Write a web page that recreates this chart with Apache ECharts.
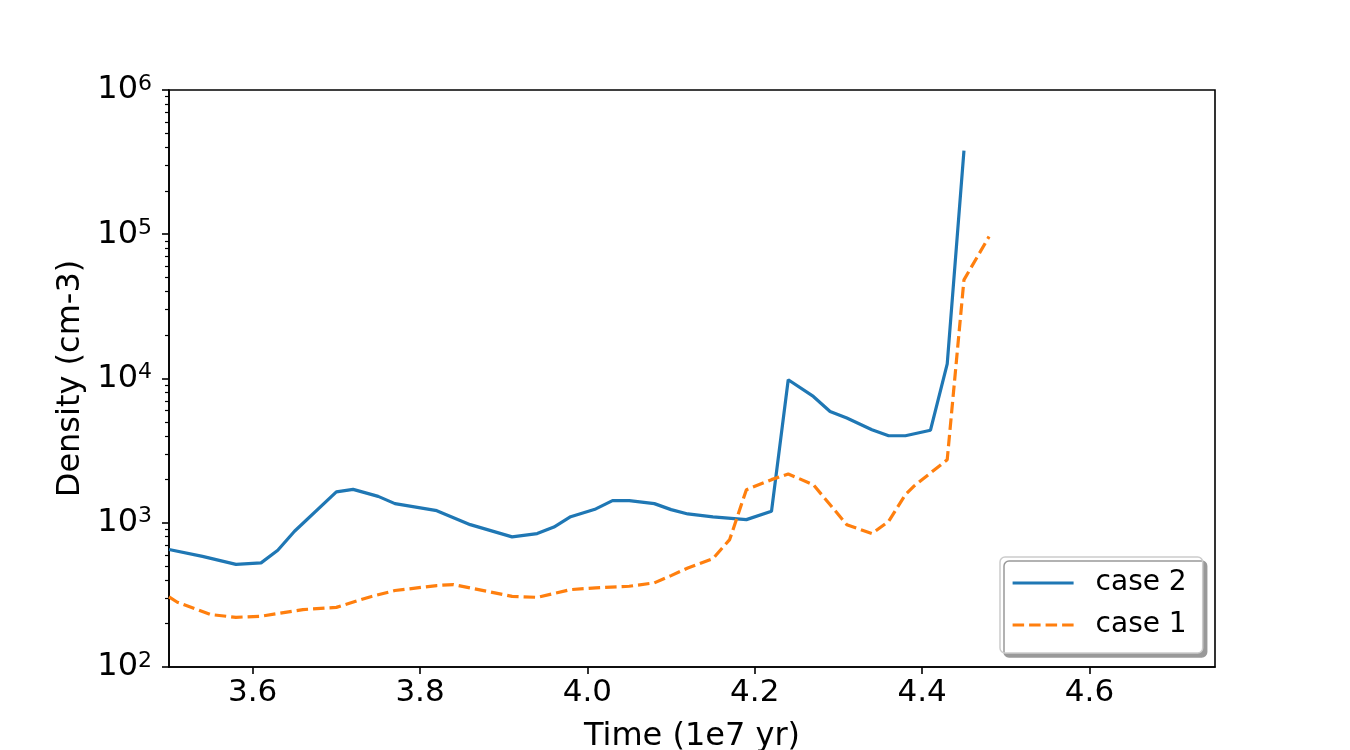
<!DOCTYPE html>
<html>
<head>
<meta charset="utf-8">
<script src="https://cdn.jsdelivr.net/npm/echarts@6/dist/echarts.min.js"></script>
<style>
  html, body { margin: 0; padding: 0; background: #fff; }
  #chart { width: 1350px; height: 750px; }
</style>
</head>
<body>
<div id="chart"></div>
<script>
// case 2 (blue, solid)
const case2Time = [3.50, 3.54, 3.58, 3.61, 3.63, 3.65, 3.70, 3.72, 3.75, 3.77, 3.82, 3.86, 3.91, 3.94, 3.96, 3.98,
  4.01, 4.03, 4.05, 4.08, 4.10, 4.12, 4.15, 4.19, 4.22, 4.24, 4.27, 4.29, 4.31, 4.34, 4.36, 4.38, 4.41, 4.43, 4.45];
const case2Density = [652, 585, 515, 527, 644, 873, 1635, 1704, 1524, 1357, 1213, 970, 798, 841, 933, 1102,
  1247, 1423, 1423, 1357, 1233, 1151, 1097, 1051, 1200, 9800, 7510, 5910, 5320, 4415, 4010, 4010, 4381, 12650, 379800];

// case 1 (orange, dashed)
const case1Time = [3.50, 3.51, 3.55, 3.58, 3.61, 3.66, 3.70, 3.74, 3.77, 3.82, 3.84, 3.87, 3.91, 3.94, 3.98,
  4.01, 4.05, 4.08, 4.10, 4.12, 4.15, 4.17, 4.19, 4.22, 4.24, 4.27, 4.31, 4.34, 4.36, 4.38, 4.39, 4.43, 4.45, 4.48];
const case1Density = [306, 281, 231, 221, 225, 250, 259, 306, 339, 367, 373, 344, 309, 304, 344,
  354, 363, 383, 430, 486, 564, 764, 1695, 1990, 2178, 1836, 970, 841, 1023, 1566, 1788, 2736, 48300, 96400];

const xTicks = [3.6, 3.8, 4.0, 4.2, 4.4, 4.6];
const yMajor = [1e2, 1e3, 1e4, 1e5, 1e6];
const yMinor = [];
for (let d = 100; d < 1e6; d *= 10) {
  for (let k = 2; k <= 9; k++) yMinor.push(d * k);
}

const font = 'DejaVu Sans';
const chart = echarts.init(document.getElementById('chart'));

function pairs(xs, ys) {
  return xs.map((x, i) => [x, ys[i]]);
}

chart.setOption({
  animation: false,
  backgroundColor: '#fff',
  grid: {
    left: 169, right: 135, top: 90, bottom: 83,
    outerBoundsMode: 'none',
    show: true, borderColor: '#000', borderWidth: 1.6, backgroundColor: 'transparent'
  },
  legend: {
    orient: 'vertical',
    left: 1000, top: 557,
    padding: [10, 16, 12, 11],
    itemWidth: 61, itemHeight: 14, itemGap: 10,
    backgroundColor: '#fff',
    borderColor: '#cccccc', borderWidth: 1.5, borderRadius: 5,
    shadowColor: '#999', shadowOffsetX: 4, shadowOffsetY: 4, shadowBlur: 0,
    itemStyle: { opacity: 0 },
    lineStyle: { width: 3.2 },
    textStyle: { fontFamily: font, fontSize: 28, color: '#000', lineHeight: 32, padding: [0, 0, 0, 17] },
    data: ['case 2', 'case 1']
  },
  xAxis: {
    type: 'value', min: 3.5, max: 4.75,
    name: 'Time (1e7 yr)', nameLocation: 'middle', nameGap: 54,
    nameTextStyle: { fontFamily: font, fontSize: 32, color: '#000' },
    axisLine: { lineStyle: { color: '#000', width: 1.6 } },
    axisTick: { length: 7, lineStyle: { color: '#000', width: 1.6 }, customValues: xTicks },
    axisLabel: { fontFamily: font, fontSize: 31, color: '#000', margin: 10,
      customValues: xTicks, formatter: v => v.toFixed(1) },
    splitLine: { show: false }
  },
  yAxis: [{
    type: 'log', logBase: 10, min: 1e2, max: 1e6,
    name: 'Density (cm-3)', nameLocation: 'middle', nameGap: 78,
    nameTextStyle: { fontFamily: font, fontSize: 32, color: '#000' },
    axisLine: { show: true, lineStyle: { color: '#000', width: 1.6 } },
    axisTick: { show: true, length: 7, lineStyle: { color: '#000', width: 1.6 }, customValues: yMajor },
    axisLabel: {
      margin: 17, customValues: yMajor,
      formatter: v => '{b|10}{s|' + Math.round(Math.log10(v)) + '}',
      rich: {
        b: { fontFamily: font, fontSize: 32, color: '#000', lineHeight: 34 },
        s: { fontFamily: font, fontSize: 22, color: '#000', verticalAlign: 'top', lineHeight: 22 }
      }
    },
    splitLine: { show: false }
  }, {
    type: 'log', logBase: 10, min: 1e2, max: 1e6, position: 'left',
    axisLine: { show: false },
    axisTick: { show: true, length: 4, lineStyle: { color: '#000', width: 1.2 }, customValues: yMinor },
    axisLabel: { show: false },
    splitLine: { show: false }
  }],
  series: [{
    name: 'case 2', type: 'line', symbol: 'none',
    data: pairs(case2Time, case2Density),
    lineStyle: { color: '#1f77b4', width: 3.2 },
    itemStyle: { color: '#1f77b4' }
  }, {
    name: 'case 1', type: 'line', symbol: 'none',
    data: pairs(case1Time, case1Density),
    lineStyle: { color: '#ff7f0e', width: 3.2, type: [11.5, 5] },
    itemStyle: { color: '#ff7f0e' }
  }]
});
</script>
</body>
</html>
